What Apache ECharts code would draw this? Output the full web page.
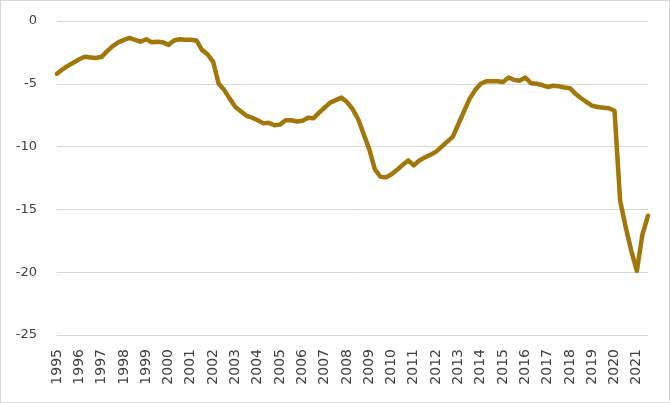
<!DOCTYPE html>
<html>
<head>
<meta charset="utf-8">
<script src="https://cdn.jsdelivr.net/npm/echarts@6/dist/echarts.min.js"></script>
<style>
html,body{margin:0;padding:0;background:#fff;}
#chart{width:670px;height:403px;box-sizing:border-box;border:1px solid #d9d9d9;}
</style>
</head>
<body>
<div id="chart"></div>
<script>
// Quarterly data, 1995Q1 .. 2021Q3
var years = [1995,1996,1997,1998,1999,2000,2001,2002,2003,2004,2005,2006,2007,2008,2009,2010,2011,2012,2013,2014,2015,2016,2017,2018,2019,2020,2021];
var quarters = ["Q1","Q2","Q3","Q4"];
var lastQuarterCount = 3; // 2021 ends at Q3

var values = [
  -4.2, -3.85, -3.55, -3.3,      // 1995
  -3.05, -2.85, -2.9, -2.95,     // 1996
  -2.85, -2.4, -2.0, -1.7,       // 1997
  -1.5, -1.35, -1.5, -1.65,      // 1998
  -1.45, -1.7, -1.65, -1.7,      // 1999
  -1.9, -1.55, -1.45, -1.5,      // 2000
  -1.5, -1.55, -2.3, -2.65,      // 2001
  -3.25, -5.0, -5.5, -6.2,       // 2002
  -6.85, -7.2, -7.55, -7.7,      // 2003
  -7.9, -8.15, -8.1, -8.3,       // 2004
  -8.25, -7.9, -7.9, -8.0,       // 2005
  -7.95, -7.7, -7.75, -7.3,      // 2006
  -6.9, -6.5, -6.3, -6.1,        // 2007
  -6.45, -7.0, -7.8, -9.0,       // 2008
  -10.2, -11.8, -12.4, -12.45,   // 2009
  -12.2, -11.85, -11.45, -11.1,  // 2010
  -11.5, -11.1, -10.85, -10.65,  // 2011
  -10.4, -10.0, -9.6, -9.2,      // 2012
  -8.2, -7.2, -6.2, -5.5,        // 2013
  -5.0, -4.8, -4.8, -4.8,        // 2014
  -4.85, -4.5, -4.7, -4.75,      // 2015
  -4.5, -4.95, -5.0, -5.1,       // 2016
  -5.25, -5.15, -5.2, -5.3,      // 2017
  -5.35, -5.8, -6.15, -6.45,     // 2018
  -6.75, -6.85, -6.9, -6.95,     // 2019
  -7.15, -14.3, -16.4, -18.3,    // 2020
  -19.9, -17.0, -15.5            // 2021
];

var yTicks = { min: -25, max: 0, interval: 5 };

var categories = [];
years.forEach(function (y, yi) {
  var n = (yi === years.length - 1) ? lastQuarterCount : 4;
  for (var q = 0; q < n; q++) categories.push(y + quarters[q]);
});

var chart = echarts.init(document.getElementById('chart'));
chart.setOption({
  animation: false,
  grid: { left: 56, right: 21, top: 20, bottom: 67, containLabel: false },
  xAxis: {
    type: 'category',
    data: categories,
    boundaryGap: false,
    axisLine: { show: false },
    axisTick: { show: false },
    splitLine: { show: false },
    axisLabel: {
      interval: 3,
      rotate: 90,
      margin: 14,
      fontFamily: 'DejaVu Sans',
      fontSize: 14,
      color: '#404040'
    ,
      formatter: function (v) { return v.slice(0, 4); }
    }
  },
  yAxis: {
    type: 'value',
    min: yTicks.min,
    max: yTicks.max,
    interval: yTicks.interval,
    axisLine: { show: false },
    axisTick: { show: false },
    splitLine: { lineStyle: { color: '#d9d9d9', width: 1 } },
    axisLabel: {
      margin: 20,
      fontFamily: 'DejaVu Sans',
      fontSize: 13,
      color: '#404040'
    }
  },
  series: [{
    type: 'line',
    data: values,
    showSymbol: false,
    symbol: 'none',
    lineStyle: { color: '#A27709', width: 4.5, join: 'round', cap: 'round' },
    itemStyle: { color: '#A27709' }
  }]
});
</script>
</body>
</html>
